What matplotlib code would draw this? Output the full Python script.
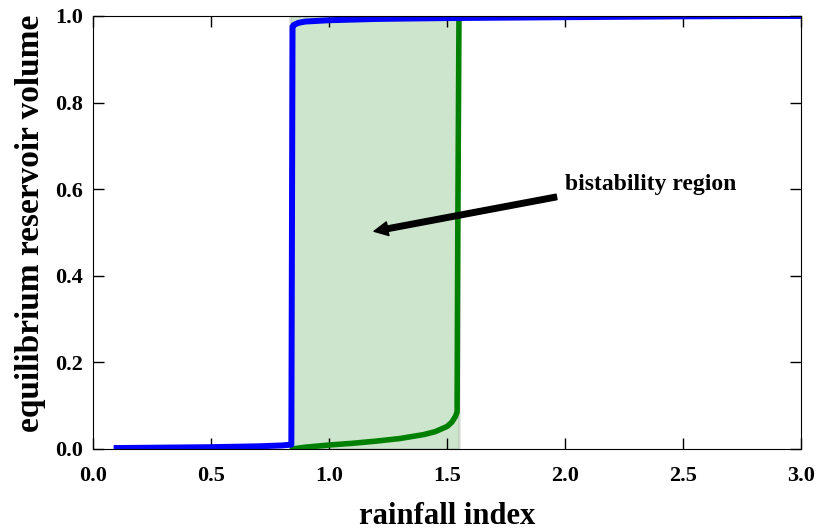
import numpy as np
import matplotlib.pyplot as plt

plt.rcParams['font.family'] = ['Liberation Serif', 'DejaVu Serif']
plt.rcParams['font.weight'] = 'bold'

# 蓝线: 从低水位分支出发（雨量增加）
blue_x = [0.1, 0.3, 0.5, 0.7, 0.8, 0.84, 0.845, 0.85, 0.87, 0.9, 1.0, 1.2, 1.5, 2.0, 2.5, 3.0]
blue_y = [0.002, 0.003, 0.004, 0.006, 0.008, 0.010, 0.975, 0.979, 0.984, 0.987, 0.990, 0.993, 0.995, 0.997, 0.999, 1.0]

# 绿线: 从高水位分支出发（雨量减少）
green_x = [0.845, 0.9, 1.0, 1.1, 1.2, 1.3, 1.4, 1.45, 1.5, 1.52, 1.535, 1.542, 1.545, 1.55, 2.0, 3.0]
green_y = [0.0, 0.004, 0.009, 0.013, 0.018, 0.024, 0.033, 0.040, 0.052, 0.062, 0.075, 0.085, 0.5, 1.0, 1.0, 1.0]

span_lo, span_hi = 0.835, 1.55
label_text = 'bistability region'

fig = plt.figure(figsize=(8.16, 5.3), dpi=100)
ax = fig.add_axes([0.114, 0.153, 0.868, 0.817])

ax.axvspan(span_lo, span_hi, facecolor='green', alpha=0.2, edgecolor='gray', linewidth=2)
ax.plot(green_x, green_y, color='green', linewidth=4)
ax.plot(blue_x, blue_y, color='blue', linewidth=4.3)

ax.annotate(label_text, xy=(1.165, 0.50), xytext=(2.0, 0.61),
            fontsize=17, fontweight='bold', va='center', ha='left',
            arrowprops=dict(facecolor='black', edgecolor='black', width=4,
                            headwidth=10, headlength=10, shrink=0.03))

ax.set_xlim(0, 3.0)
ax.set_ylim(0, 1.0)
ax.set_xticks(np.arange(0, 3.01, 0.5))
ax.set_yticks(np.arange(0, 1.01, 0.2))
ax.set_xticklabels([f'{v:.1f}' for v in np.arange(0, 3.01, 0.5)])
ax.set_yticklabels([f'{v:.1f}' for v in np.arange(0, 1.01, 0.2)])
ax.tick_params(direction='in', top=True, right=True, length=8, width=1,
               labelsize=16)
ax.tick_params(axis='x', pad=12)
ax.tick_params(axis='y', pad=7)
for lab in ax.get_xticklabels() + ax.get_yticklabels():
    lab.set_fontweight('bold')

ax.set_xlabel('rainfall index', fontsize=22, fontweight='bold', labelpad=12)
ax.set_ylabel('equilibrium reservoir volume', fontsize=24, fontweight='bold')
ax.yaxis.set_label_coords(-0.067, 0.52)

plt.savefig('out.png', dpi=100)
